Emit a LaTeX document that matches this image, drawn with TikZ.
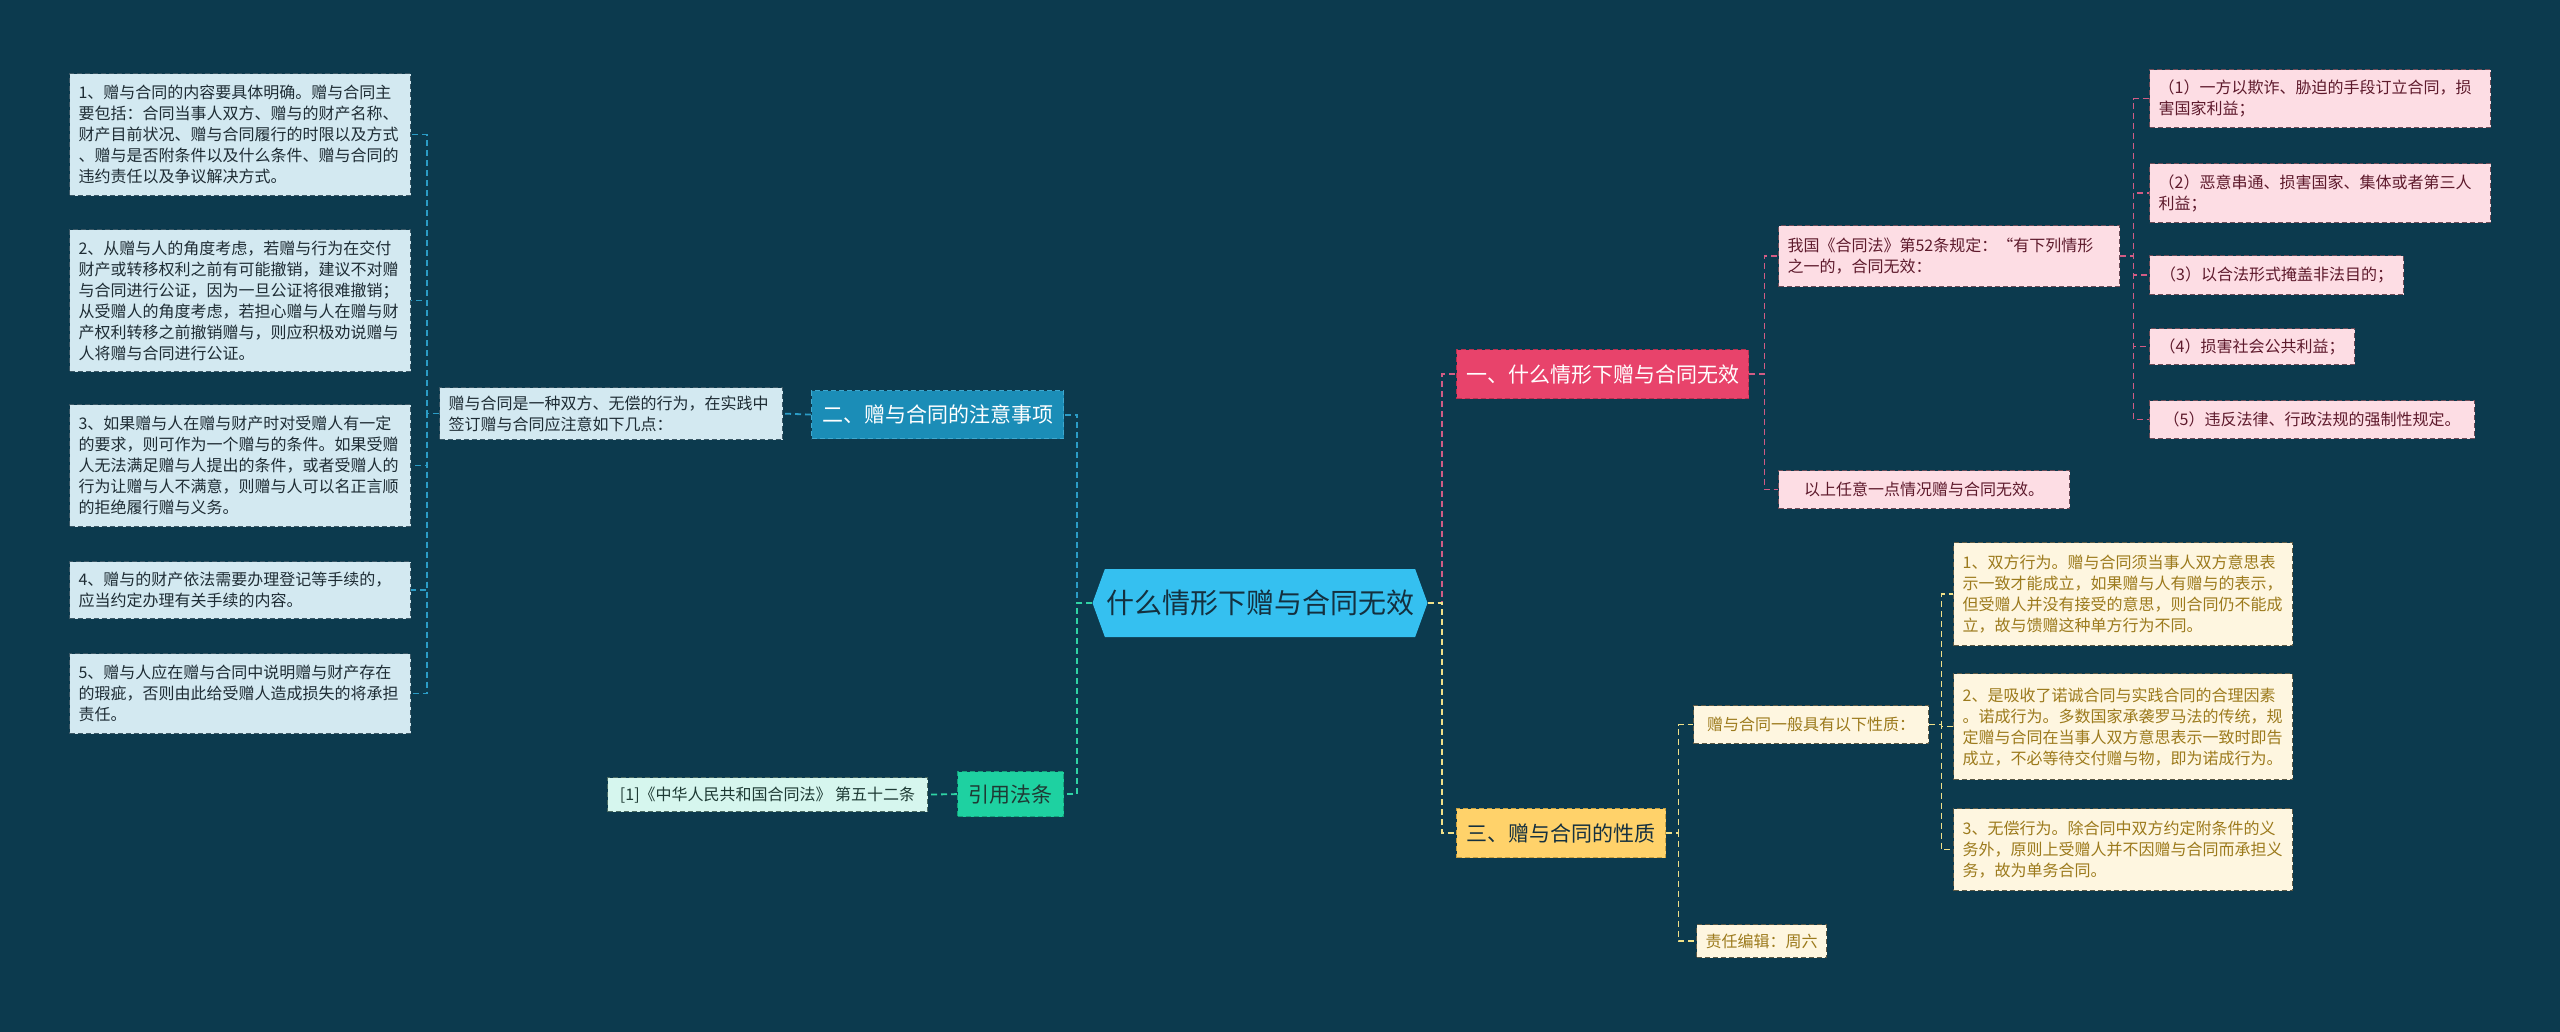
\documentclass[tikz,border=0pt]{standalone}
\usepackage{fontspec}
\setmainfont{Noto Sans CJK SC}
\usetikzlibrary{shapes.symbols}
\definecolor{bg}{HTML}{0C3A4E}
\definecolor{cfill}{HTML}{35C0F0}
\definecolor{ctext}{HTML}{14303F}
\definecolor{bluebr}{HTML}{1B8DB7}
\definecolor{bluebrd}{HTML}{3FA9D0}
\definecolor{blueleaf}{HTML}{D3E9F1}
\definecolor{blueleafd}{HTML}{3C5866}
\definecolor{bluetext}{HTML}{1E2C34}
\definecolor{bluecon}{HTML}{2B9CC6}
\definecolor{pinkbr}{HTML}{E8436B}
\definecolor{pinkbrd}{HTML}{B8304F}
\definecolor{pinkleaf}{HTML}{FDDDE4}
\definecolor{pinkleafd}{HTML}{6E4B57}
\definecolor{pinktext}{HTML}{5E1A2C}
\definecolor{pinkcon}{HTML}{D25C84}
\definecolor{yelbr}{HTML}{FFD26A}
\definecolor{yelbrd}{HTML}{C9A040}
\definecolor{yelleaf}{HTML}{FEF6E0}
\definecolor{yelleafd}{HTML}{5E5A45}
\definecolor{yeltext}{HTML}{9C7A1C}
\definecolor{yelcon}{HTML}{F0E089}
\definecolor{mintbr}{HTML}{1ED1A1}
\definecolor{mintbrd}{HTML}{15A07A}
\definecolor{mintleaf}{HTML}{D6F6EE}
\definecolor{mintleafd}{HTML}{4A6A62}
\definecolor{minttext}{HTML}{1E3A34}
\definecolor{mintcon}{HTML}{2FD3A5}
\begin{document}
\begin{tikzpicture}[x=1pt,y=-1pt]
\tikzset{
  leafbox/.style={rectangle, anchor=north west, align=left, inner xsep=9pt, inner ysep=0pt,
    line width=1.2pt, dash pattern=on 5pt off 3pt, font=\fontsize{16}{21}\selectfont},
  bleaf/.style={leafbox, fill=blueleaf, draw=blueleafd, text=bluetext},
  pleaf/.style={leafbox, fill=pinkleaf, draw=pinkleafd, text=pinktext},
  yleaf/.style={leafbox, fill=yelleaf, draw=yelleafd, text=yeltext},
  mleaf/.style={leafbox, fill=mintleaf, draw=mintleafd, text=minttext},
  branch/.style={rectangle, anchor=north west, align=center, inner sep=0pt,
    line width=1.2pt, dash pattern=on 5pt off 3pt, font=\fontsize{21}{25}\selectfont},
  conn/.style={line width=1.8pt, dash pattern=on 6pt off 4pt},
}
\useasboundingbox (0,0) rectangle (2560,1032);
\fill[bg] (0,0) rectangle (2560,1032);

% center
\node[signal, signal to=west and east, signal pointer angle=140, fill=cfill, text=ctext,
  minimum width=335pt, minimum height=68pt, inner sep=0pt, font=\fontsize{28}{32}\selectfont]
  (c) at (1260,603) {什么情形下赠与合同无效};

% left branch
\node[branch, fill=bluebr, draw=bluebrd, text=white, minimum width=252pt, minimum height=48pt] (two) at (811,390) {二、赠与合同的注意事项};
\node[bleaf, text width=325pt, minimum height=52pt] (mid) at (439,387) {赠与合同是一种双方、无偿的行为，在实践中\\签订赠与合同应注意如下几点：};
\node[bleaf, text width=323pt, minimum height=122pt] (b1) at (69,73) {1、赠与合同的内容要具体明确。赠与合同主\\要包括：合同当事人双方、赠与的财产名称、\\财产目前状况、赠与合同履行的时限以及方式\\、赠与是否附条件以及什么条件、赠与合同的\\违约责任以及争议解决方式。};
\node[bleaf, text width=323pt, minimum height=142pt] (b2) at (69,229) {2、从赠与人的角度考虑，若赠与行为在交付\\财产或转移权利之前有可能撤销，建议不对赠\\与合同进行公证，因为一旦公证将很难撤销；\\从受赠人的角度考虑，若担心赠与人在赠与财\\产权利转移之前撤销赠与，则应积极劝说赠与\\人将赠与合同进行公证。};
\node[bleaf, text width=323pt, minimum height=122pt] (b3) at (69,404) {3、如果赠与人在赠与财产时对受赠人有一定\\的要求，则可作为一个赠与的条件。如果受赠\\人无法满足赠与人提出的条件，或者受赠人的\\行为让赠与人不满意，则赠与人可以名正言顺\\的拒绝履行赠与义务。};
\node[bleaf, text width=323pt, minimum height=57pt] (b4) at (69,561) {4、赠与的财产依法需要办理登记等手续的，\\应当约定办理有关手续的内容。};
\node[bleaf, text width=323pt, minimum height=80pt] (b5) at (69,653) {5、赠与人应在赠与合同中说明赠与财产存在\\的瑕疵，否则由此给受赠人造成损失的将承担\\责任。};

\node[branch, fill=mintbr, draw=mintbrd, text=minttext, minimum width=106pt, minimum height=45pt] (law) at (957,771) {引用法条};
\node[mleaf, minimum width=320pt, minimum height=34pt, align=center] (cite) at (607,777) {[1]《中华人民共和国合同法》 第五十二条};

% right top branch
\node[branch, fill=pinkbr, draw=pinkbrd, text=white, minimum width=292pt, minimum height=49pt] (one) at (1456,349) {一、什么情形下赠与合同无效};
\node[pleaf, text width=323pt, minimum height=61pt] (wg) at (1778,225) {我国《合同法》第52条规定：“有下列情形\\之一的，合同无效：};
\node[pleaf, minimum width=291pt, minimum height=38pt, align=center] (yi) at (1778,470) {以上任意一点情况赠与合同无效。};
\node[pleaf, text width=323pt, minimum height=58pt] (p1) at (2149,69) {（1）一方以欺诈、胁迫的手段订立合同，损\\害国家利益；};
\node[pleaf, text width=323pt, minimum height=59pt] (p2) at (2149,163) {（2）恶意串通、损害国家、集体或者第三人\\利益；};
\node[pleaf, minimum width=254pt, minimum height=39pt] (p3) at (2149,255) {（3）以合法形式掩盖非法目的；};
\node[pleaf, minimum width=205pt, minimum height=36pt] (p4) at (2149,328) {（4）损害社会公共利益；};
\node[pleaf, minimum width=325pt, minimum height=38pt] (p5) at (2149,400) {（5）违反法律、行政法规的强制性规定。};

% right bottom branch
\node[branch, fill=yelbr, draw=yelbrd, text=ctext, minimum width=209pt, minimum height=49pt] (three) at (1456,808) {三、赠与合同的性质};
\node[yleaf, minimum width=235pt, minimum height=38pt] (xz) at (1693,705) {赠与合同一般具有以下性质：};
\node[yleaf, minimum width=93pt, minimum height=33pt] (zr) at (1696,924) {责任编辑：周六};
\node[yleaf, text width=321pt, minimum height=103pt] (y1) at (1953,542) {1、双方行为。赠与合同须当事人双方意思表\\示一致才能成立，如果赠与人有赠与的表示，\\但受赠人并没有接受的意思，则合同仍不能成\\立，故与馈赠这种单方行为不同。};
\node[yleaf, text width=321pt, minimum height=106pt] (y2) at (1953,673) {2、是吸收了诺诚合同与实践合同的合理因素\\。诺成行为。多数国家承袭罗马法的传统，规\\定赠与合同在当事人双方意思表示一致时即告\\成立，不必等待交付赠与物，即为诺成行为。};
\node[yleaf, text width=321pt, minimum height=82pt] (y3) at (1953,808) {3、无偿行为。除合同中双方约定附条件的义\\务外，原则上受赠人并不因赠与合同而承担义\\务，故为单务合同。};

% connectors
\draw[conn, bluecon] (c.west) -- ++(-15,0) |- (two.east);
\draw[conn, mintcon] (c.west) -- ++(-15,0) |- (law.east);
\draw[conn, bluecon] (two.west) -- (mid.east);
\foreach \n in {b1,b2,b3,b4,b5} \draw[conn, bluecon, line width=1.4pt] (mid.west) -- ++(-12,0) |- (\n.east);
\draw[conn, mintcon] (law.west) -- (cite.east);

\draw[conn, pinkcon] (c.east) -- ++(14,0) |- (one.west);
\draw[conn, yelcon] (c.east) -- ++(14,0) |- (three.west);
\foreach \n in {wg,yi} \draw[conn, pinkcon, line width=1.4pt] (one.east) -- ++(15,0) |- (\n.west);
\foreach \n in {p1,p2,p3,p4,p5} \draw[conn, pinkcon, line width=1.4pt] (wg.east) -- ++(13,0) |- (\n.west);
\foreach \n in {xz,zr} \draw[conn, yelcon, line width=1.4pt] (three.east) -- ++(12,0) |- (\n.west);
\foreach \n in {y1,y2,y3} \draw[conn, yelcon, line width=1.4pt] (xz.east) -- ++(12,0) |- (\n.west);
\end{tikzpicture}
\end{document}
